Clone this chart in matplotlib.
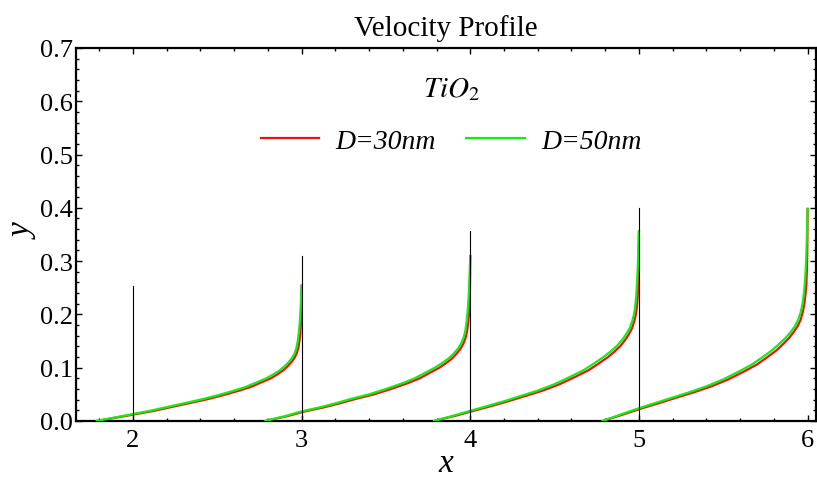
import matplotlib
matplotlib.use('Agg')
import matplotlib.pyplot as plt
from matplotlib.ticker import MultipleLocator, FormatStrFormatter

plt.rcParams['font.family'] = ['Liberation Serif', 'DejaVu Serif']
plt.rcParams['mathtext.fontset'] = 'stix'
plt.rcParams['mathtext.default'] = 'it'

# profile end points (x where each profile reaches its top) and station lines
profile_end = [3, 4, 5, 6]
station_x = [2, 3, 4, 5]
station_height = [0.253, 0.310, 0.357, 0.399]

# horizontal distance of each point from the profile end
dist_green = [1.215, 1.1, 1.0, 0.9, 0.8, 0.7, 0.6, 0.5, 0.4, 0.33, 0.27, 0.21, 0.17,
              0.13, 0.10, 0.075, 0.055, 0.04, 0.03, 0.022, 0.016, 0.011, 0.007, 0.004, 0.002, 0.0]
dist_red = [1.215, 1.085, 0.98, 0.875, 0.775, 0.672, 0.57, 0.47, 0.37, 0.30, 0.242, 0.183, 0.146,
            0.109, 0.082, 0.059, 0.041, 0.028, 0.019, 0.012, 0.007, 0.004, 0.002, 0.001, 0.0005, 0.0]

# y values of the four profiles
y_p1 = [0, .007, .013, .019, .026, .033, .040, .048, .057, .064, .072, .080, .087,
        .095, .103, .111, .119, .128, .138, .152, .168, .185, .206, .226, .241, .254]
y_p2 = [0, .009, .018, .025, .033, .042, .050, .060, .071, .080, .090, .100, .108,
        .117, .126, .135, .145, .156, .168, .185, .204, .226, .250, .275, .294, .309]
y_p3 = [0, .010, .019, .028, .037, .047, .057, .069, .084, .095, .107, .120, .130,
        .141, .152, .163, .174, .187, .199, .215, .235, .260, .288, .317, .338, .356]
y_p4 = [0, .013, .024, .034, .044, .054, .065, .078, .094, .106, .119, .133, .144,
        .156, .167, .178, .190, .205, .220, .239, .259, .285, .314, .346, .374, .398]
profiles_y = [y_p1, y_p2, y_p3, y_p4]

red = '#ee1111'
green = '#11ee11'

fig = plt.figure(figsize=(8.17, 4.85), dpi=100)
ax = fig.add_axes([0.093, 0.130, 0.9058, 0.769])

for end, ys in zip(profile_end, profiles_y):
    x_r = [end - d for d in dist_red]
    x_g = [end - d for d in dist_green]
    ax.plot(x_r, ys, color=red, lw=1.6, label='D=30nm' if end == 3 else None, zorder=2)
    ax.plot(x_g, ys, color=green, lw=1.6, label='D=50nm' if end == 3 else None, zorder=3)

# thin black station lines
for sx, h in zip(station_x, station_height):
    ax.plot([sx, sx], [0, h], color='black', lw=0.8, zorder=4)

ax.set_xlim(1.662, 6.05)
ax.set_ylim(0, 0.7)
ax.xaxis.set_major_locator(MultipleLocator(1))
ax.xaxis.set_minor_locator(MultipleLocator(0.2))
ax.yaxis.set_major_locator(MultipleLocator(0.1))
ax.yaxis.set_minor_locator(MultipleLocator(0.02))
ax.yaxis.set_major_formatter(FormatStrFormatter('%.1f'))
ax.tick_params(which='both', direction='in', top=True, right=True, labelsize=19, width=1)
ax.tick_params(which='major', length=4)
ax.tick_params(which='minor', length=2)
ax.tick_params(axis='x', pad=6)
ax.tick_params(axis='y', pad=2)
for s in ax.spines.values():
    s.set_linewidth(1.6)

ax.set_title('Velocity Profile', fontsize=21, pad=9)
ax.set_xlabel('x', fontsize=24, style='italic', labelpad=-3)
ax.set_ylabel('y', fontsize=24, style='italic')
ax.yaxis.set_label_coords(-0.05, 0.51)

leg = ax.legend(loc='upper center', bbox_to_anchor=(0.507, 0.995), ncol=2, frameon=False,
                title='$TiO_2$', title_fontsize=21,
                prop={'family': 'Liberation Serif', 'style': 'italic', 'size': 20},
                handlelength=2.1, handletextpad=0.6, columnspacing=1.1)
leg._legend_box.sep = 19

fig.savefig('out.png', dpi=100)
